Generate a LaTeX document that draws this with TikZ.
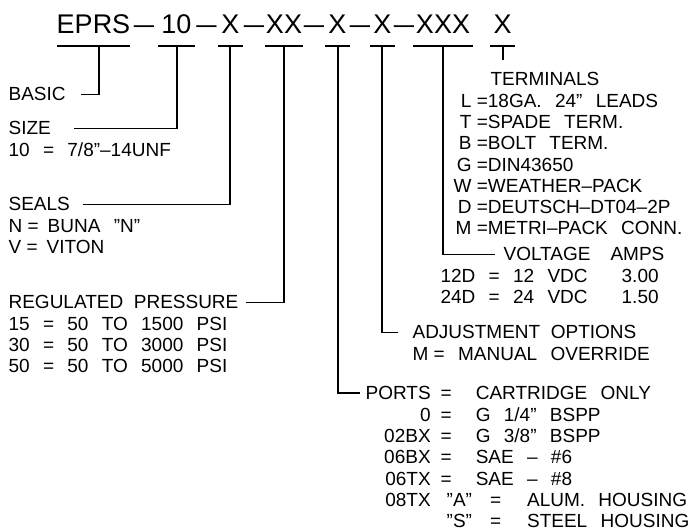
\documentclass[tikz,border=0pt]{standalone}
\usepackage{fontspec}
\setmainfont{Liberation Sans}
\usetikzlibrary{positioning}

\newcommand{\partfont}{\fontsize{27}{30}\selectfont}
\newcommand{\notefont}{\fontsize{19}{21.3}\selectfont}
\newcommand{\sep}{\hspace{0.7em}}

\begin{document}
\begin{tikzpicture}[x=1pt,y=-1pt,line width=1.2pt,
    part/.style={font=\partfont,inner sep=0pt,anchor=base},
    note/.style={font=\notefont,inner sep=0pt,anchor=base west}]
  \useasboundingbox[fill=white] (0,0) rectangle (699,531);

  % part number, with a bar under each field
  \foreach \name/\txt/\xa/\xb/\xv in {basic/EPRS/57/130/99, size/10/158/195/177,
      seals/X/218/243/230, pres/XX/265/303/284, ports/X/325/350/338,
      adj/X/370/395/382, volt/XXX/413/473/443, term/X/490/515/503}{
    \node[part] (f-\name) at ({(\xa+\xb)/2},33) {\txt};
    \draw (\xa,46) -- (\xb,46);
    \coordinate (t-\name) at (\xv,46);
  }
  \foreach \x [count=\i] in {144,206.5,254,314,360,404}
    \node[part] (d\i) at (\x,33) {\scalebox{1.35}[1]{–}};
  \coordinate (term-end) at (503,60);

  % left hand notes
  \node[note] (basic) at (8,100.8) {BASIC};
  \node[note] (size) at (8,134.8) {SIZE};
  \node[note] (size-v) at (8,156.1) {10\sep=\sep7/8”–14UNF};
  \node[note] (seals) at (8,210.8) {SEALS};
  \node[note] (seals-v) at (8,232.1) {\begin{tabular}[t]{@{}l@{}}
    N =\hspace{9pt}BUNA\sep”N”\\ V =\hspace{9pt}VITON\end{tabular}};
  \node[note] (pres) at (8,308.8) {REGULATED~~PRESSURE};
  \node[note] (pres-v) at (8,330.1) {\begin{tabular}[t]{@{}l@{}}
    15\sep=\sep50\sep TO\sep1500\sep PSI\\ 30\sep=\sep50\sep TO\sep3000\sep PSI\\
    50\sep=\sep50\sep TO\sep5000\sep PSI\end{tabular}};

  % right hand notes
  \node[note] (term) at (490,85.8) {TERMINALS};
  \node[note] (term-v) at (453,107.1) {\begin{tabular}[t]{@{}r@{~}l@{}}
    L & =18GA.\sep24”\sep LEADS\\ T & =SPADE\sep TERM.\\ B & =BOLT\sep TERM.\\
    G & =DIN43650\\ W & =WEATHER–PACK\\ D & =DEUTSCH–DT04–2P\\
    M & =METRI–PACK\sep CONN.\end{tabular}};
  \node[note] (volt) at (503,260.8) {VOLTAGE\hspace{20pt}AMPS};
  \node[note] (volt-v) at (440,282.1) {\begin{tabular}[t]{@{}l@{\hspace{34pt}}r@{}}
    12D\sep=\sep12\sep VDC & 3.00\\ 24D\sep=\sep24\sep VDC & 1.50\end{tabular}};
  \node[note] (adj) at (412,338.8) {ADJUSTMENT~~OPTIONS};
  \node[note] (adj-v) at (412,360.1) {M =\sep MANUAL\sep OVERRIDE};
  \node[note] (ports) at (365,399.8) {\begin{tabular}[t]{@{}r@{\hspace{10pt}}l@{}}
    PORTS & =\hspace{24pt}CARTRIDGE\sep ONLY\\
    0 & =\hspace{24pt}G\sep1/4”\sep BSPP\\
    02BX & =\hspace{24pt}G\sep3/8”\sep BSPP\\
    06BX & =\hspace{24pt}SAE\sep–\sep\#6\\
    06TX & =\hspace{24pt}SAE\sep–\sep\#8\\
    08TX & \hspace{6pt}”A”\hspace{18pt}=\hspace{26pt}ALUM.\sep HOUSING\\
         & \hspace{6pt}”S”\hspace{18pt}=\hspace{26pt}STEEL\sep HOUSING\end{tabular}};

  % leaders
  \draw (t-basic) |- ([xshift=15pt]basic.east);
  \draw (t-size) |- ([xshift=23pt]size.east);
  \draw (t-seals) |- ([xshift=13pt]seals.east);
  \draw (t-pres) |- ([xshift=7pt]pres.east);
  \draw (t-ports) |- ([xshift=-5pt,yshift=6.8pt]ports.base west);
  \draw (t-adj) |- ([xshift=-14pt]adj.west);
  \draw (t-volt) |- ([xshift=-8pt]volt.west);
  \draw (t-term) -- (term-end);
\end{tikzpicture}
\end{document}
